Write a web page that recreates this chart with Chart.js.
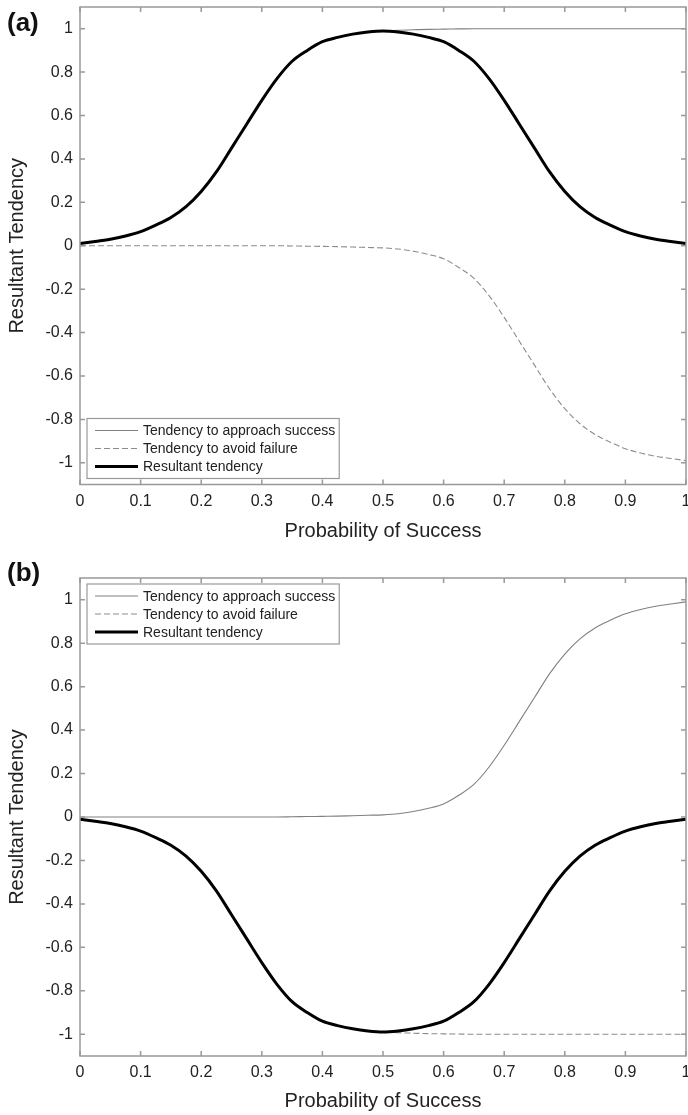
<!DOCTYPE html>
<html lang="en">

<head>
    <meta charset="UTF-8">
    <title>Resultant Tendency vs Probability of Success</title>
    <script src="https://cdn.jsdelivr.net/npm/chart.js"></script>
    <style>
        body { margin: 0; background: #fff; }
        #wrap { position: relative; width: 688px; height: 1115px; font-family: "Liberation Sans", Arial, sans-serif; }
        .panel { position: absolute; left: 0; width: 688px; }
        .tag { position: absolute; left: 7px; font-weight: bold; font-size: 26px; line-height: 26px; color: #111; }
    </style>
</head>

<body>
    <div id="wrap">
        <div class="panel" style="top:0;height:557px"><canvas id="chartA" width="688" height="557"></canvas></div>
        <div class="panel" style="top:557px;height:558px"><canvas id="chartB" width="688" height="558"></canvas></div>
        <div class="tag" style="top:9px">(a)</div>
        <div class="tag" style="top:559px">(b)</div>
    </div>

    <script>
        // x positions (probability of success), read every 0.025
        const probs = [0, 0.025, 0.05, 0.075, 0.1, 0.125, 0.15, 0.175, 0.2, 0.225, 0.25, 0.275, 0.3, 0.325, 0.35,
            0.375, 0.4, 0.425, 0.45, 0.475, 0.5, 0.525, 0.55, 0.575, 0.6, 0.625, 0.65, 0.675, 0.7, 0.725, 0.75,
            0.775, 0.8, 0.825, 0.85, 0.875, 0.9, 0.925, 0.95, 0.975, 1];

        const xTicks = [0, 0.1, 0.2, 0.3, 0.4, 0.5, 0.6, 0.7, 0.8, 0.9, 1];
        const yTicks = [-1, -0.8, -0.6, -0.4, -0.2, 0, 0.2, 0.4, 0.6, 0.8, 1];

        // panel (a)
        const approachA = [0.01, 0.02, 0.03, 0.045, 0.065, 0.095, 0.13, 0.18, 0.25, 0.34, 0.45, 0.56, 0.67, 0.77, 0.85,
            0.90, 0.94, 0.96, 0.975, 0.985, 0.99, 0.993, 0.995, 0.997, 0.998, 0.999, 1, 1, 1, 1, 1,
            1, 1, 1, 1, 1, 1, 1, 1, 1, 1];
        const avoidA = [0, 0, 0, 0, 0, 0, 0, 0, 0, 0, 0, 0, 0, 0, -0.001,
            -0.002, -0.003, -0.004, -0.006, -0.008, -0.01, -0.015, -0.025, -0.04, -0.06, -0.10, -0.15, -0.23, -0.33, -0.44, -0.55,
            -0.66, -0.75, -0.82, -0.87, -0.905, -0.935, -0.955, -0.97, -0.98, -0.99];
        const resultantA = [0.01, 0.02, 0.03, 0.045, 0.065, 0.095, 0.13, 0.18, 0.25, 0.34, 0.45, 0.56, 0.67, 0.77, 0.85,
            0.90, 0.94, 0.96, 0.975, 0.985, 0.99, 0.985, 0.975, 0.96, 0.94, 0.90, 0.85, 0.77, 0.67, 0.56, 0.45,
            0.34, 0.25, 0.18, 0.13, 0.095, 0.065, 0.045, 0.03, 0.02, 0.01];

        // panel (b)
        const approachB = [0, 0, 0, 0, 0, 0, 0, 0, 0, 0, 0, 0, 0, 0, 0.001,
            0.002, 0.003, 0.004, 0.006, 0.008, 0.01, 0.015, 0.025, 0.04, 0.06, 0.10, 0.15, 0.23, 0.33, 0.44, 0.55,
            0.66, 0.75, 0.82, 0.87, 0.905, 0.935, 0.955, 0.97, 0.98, 0.99];
        const avoidB = [-0.01, -0.02, -0.03, -0.045, -0.065, -0.095, -0.13, -0.18, -0.25, -0.34, -0.45, -0.56, -0.67, -0.77, -0.85,
            -0.90, -0.94, -0.96, -0.975, -0.985, -0.99, -0.993, -0.995, -0.997, -0.998, -0.999, -1, -1, -1, -1, -1,
            -1, -1, -1, -1, -1, -1, -1, -1, -1, -1];
        const resultantB = [-0.01, -0.02, -0.03, -0.045, -0.065, -0.095, -0.13, -0.18, -0.25, -0.34, -0.45, -0.56, -0.67, -0.77, -0.85,
            -0.90, -0.94, -0.96, -0.975, -0.985, -0.99, -0.985, -0.975, -0.96, -0.94, -0.90, -0.85, -0.77, -0.67, -0.56, -0.45,
            -0.34, -0.25, -0.18, -0.13, -0.095, -0.065, -0.045, -0.03, -0.02, -0.01];

        const labels = ['Tendency to approach success', 'Tendency to avoid failure', 'Resultant tendency'];

        Chart.defaults.font.family = '"Liberation Sans", Arial, sans-serif';
        Chart.defaults.color = '#222';

        const toPts = arr => probs.map((p, i) => ({ x: p, y: arr[i] }));

        // box, inward ticks on all four sides, and the inset legend
        const framePlugin = {
            id: 'frame',
            afterDraw(chart, args, opts) {
                const { ctx, chartArea: a, scales: { x, y } } = chart;
                ctx.save();
                ctx.strokeStyle = '#999';
                ctx.lineWidth = 1.5;
                ctx.strokeRect(a.left, a.top, a.right - a.left, a.bottom - a.top);
                ctx.beginPath();
                xTicks.forEach(v => {
                    const px = x.getPixelForValue(v);
                    ctx.moveTo(px, a.bottom); ctx.lineTo(px, a.bottom - 5);
                    ctx.moveTo(px, a.top); ctx.lineTo(px, a.top + 5);
                });
                yTicks.forEach(v => {
                    const py = y.getPixelForValue(v);
                    ctx.moveTo(a.left, py); ctx.lineTo(a.left + 5, py);
                    ctx.moveTo(a.right, py); ctx.lineTo(a.right - 5, py);
                });
                ctx.stroke();

                // legend
                ctx.font = '14px "Liberation Sans", Arial, sans-serif';
                const sets = chart.data.datasets;
                const textW = Math.max(...sets.map(d => ctx.measureText(d.label).width));
                const bw = 56 + textW + 4, bh = 60;
                const bx = a.left + 7;
                const by = opts.atTop ? a.top + 6 : a.bottom - 6 - bh;
                ctx.fillStyle = '#fff';
                ctx.fillRect(bx, by, bw, bh);
                ctx.lineWidth = 1.2;
                ctx.strokeStyle = '#999';
                ctx.strokeRect(bx, by, bw, bh);
                sets.forEach((d, i) => {
                    const ry = by + 12 + i * 18;
                    ctx.beginPath();
                    ctx.setLineDash(d.borderDash || []);
                    ctx.strokeStyle = d.borderColor;
                    ctx.lineWidth = d.borderWidth;
                    ctx.moveTo(bx + 8, ry);
                    ctx.lineTo(bx + 51, ry);
                    ctx.stroke();
                    ctx.setLineDash([]);
                    ctx.fillStyle = '#222';
                    ctx.textBaseline = 'middle';
                    ctx.textAlign = 'left';
                    ctx.fillText(d.label, bx + 56, ry + 1);
                });
                ctx.restore();
            }
        };

        function makePanel(id, approach, avoid, resultant, cfg) {
            new Chart(document.getElementById(id), {
                type: 'line',
                data: {
                    datasets: [
                        {
                            label: labels[0],
                            data: toPts(approach),
                            borderColor: '#808080',
                            borderWidth: 1.1,
                            order: 1
                        },
                        {
                            label: labels[1],
                            data: toPts(avoid),
                            borderColor: '#8c8c8c',
                            borderWidth: 1.1,
                            borderDash: [6, 3],
                            order: 2
                        },
                        {
                            label: labels[2],
                            data: toPts(resultant),
                            borderColor: '#000',
                            borderWidth: 3,
                            order: 0
                        }
                    ]
                },
                options: {
                    responsive: false,
                    animation: false,
                    events: [],
                    elements: {
                        point: { radius: 0 },
                        line: { cubicInterpolationMode: 'monotone' }
                    },
                    layout: { padding: { top: cfg.top, right: 2, left: 0, bottom: 0 } },
                    scales: {
                        x: {
                            type: 'linear',
                            min: 0,
                            max: 1,
                            afterBuildTicks: s => { s.ticks = xTicks.map(v => ({ value: v })); },
                            afterFit: s => { s.height = cfg.axisH; s.paddingLeft = 0; s.paddingRight = 0; },
                            grid: { display: false, drawTicks: false },
                            border: { display: false },
                            ticks: {
                                padding: 7,
                                maxRotation: 0,
                                autoSkip: false,
                                font: { size: 16 },
                                callback: v => String(v)
                            },
                            title: {
                                display: true,
                                text: 'Probability of Success',
                                font: { size: 20 },
                                padding: { top: 0, bottom: cfg.titlePad }
                            }
                        },
                        y: {
                            type: 'linear',
                            min: -1.1,
                            max: 1.1,
                            afterBuildTicks: s => { s.ticks = yTicks.map(v => ({ value: v })); },
                            afterFit: s => { s.width = 80; s.paddingTop = 0; s.paddingBottom = 0; },
                            grid: { display: false, drawTicks: false },
                            border: { display: false },
                            ticks: {
                                padding: 7,
                                font: { size: 16 },
                                callback: v => String(v)
                            },
                            title: {
                                display: true,
                                text: 'Resultant Tendency',
                                font: { size: 20 },
                                padding: { top: 5, bottom: 0 }
                            }
                        }
                    },
                    plugins: {
                        legend: { display: false },
                        tooltip: { enabled: false },
                        frame: { atTop: cfg.legendTop }
                    }
                },
                plugins: [framePlugin]
            });
        }

        makePanel('chartA', approachA, avoidA, resultantA, { top: 7, axisH: 72.5, titlePad: 14, legendTop: false });
        makePanel('chartB', approachB, avoidB, resultantB, { top: 21, axisH: 59, titlePad: 2, legendTop: true });
    </script>
</body>

</html>
